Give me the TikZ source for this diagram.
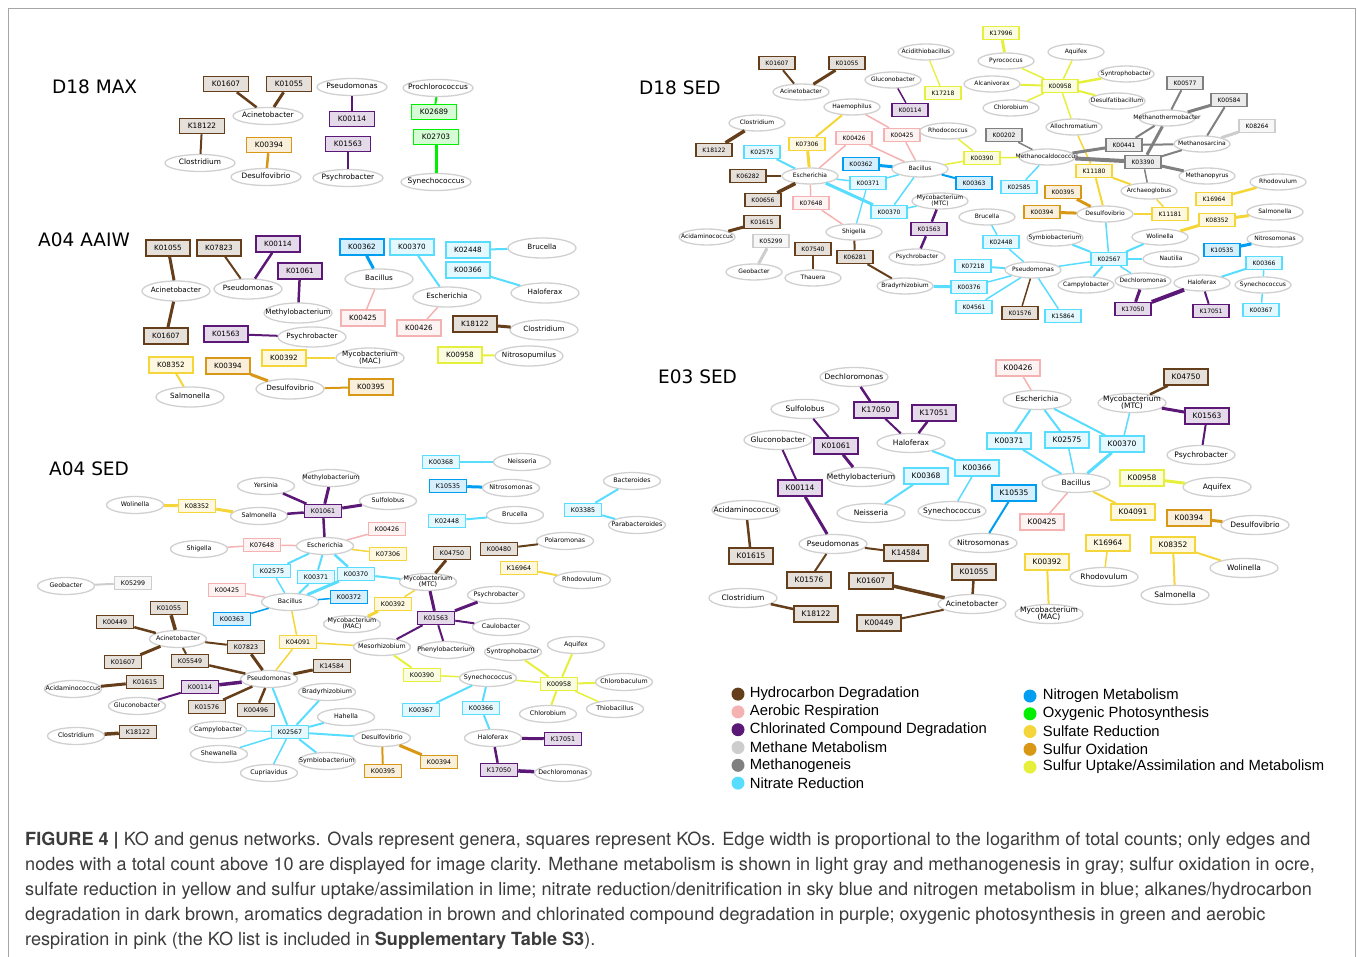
\documentclass[tikz,border=0pt]{standalone}
\usepackage{fontspec}
\setmainfont{DejaVu Sans}
\newfontfamily\legfont{Liberation Sans}
\newfontfamily\capfont{TeX Gyre Heros}
\usepackage{tikz}
\usetikzlibrary{shapes.geometric, positioning}
\definecolor{hydro}{RGB}{101,63,28}
\definecolor{aerob}{RGB}{244,178,178}
\definecolor{chlor}{RGB}{92,24,118}
\definecolor{methane}{RGB}{205,205,205}
\definecolor{methgen}{RGB}{128,128,128}
\definecolor{nitrate}{RGB}{88,220,255}
\definecolor{nitrogen}{RGB}{0,158,240}
\definecolor{oxyphoto}{RGB}{0,238,0}
\definecolor{sulfate}{RGB}{245,214,58}
\definecolor{sulfox}{RGB}{216,152,22}
\definecolor{sulfup}{RGB}{230,240,60}
\definecolor{ovalgray}{RGB}{208,208,208}
\definecolor{captext}{RGB}{60,60,60}

\tikzset{
  gen/.style={ellipse, draw=ovalgray, fill=white, line width=1.3pt, inner sep=0pt, gensize},
  ko/.style={rectangle, draw=#1, fill=#1!16, line width=1.5pt, inner sep=0pt, kosize},
  gensize/.style={minimum width=56pt, minimum height=16pt, text height=4.4pt, text depth=1.2pt, font=\fontsize{6}{6.6}\selectfont},
  kosize/.style={minimum width=36pt, minimum height=13pt, font=\fontsize{6}{6.6}\selectfont},
  title/.style={font=\fontsize{18.5}{22}\selectfont, anchor=west, inner sep=0pt},
  legdot/.style={circle, fill=#1, minimum size=13pt, inner sep=0pt},
  legtxt/.style={font=\legfont\fontsize{14.8}{16}\selectfont, inner sep=0pt, anchor=west},
  captxt/.style={font=\capfont\fontsize{18.1}{20}\selectfont, text=captext, anchor=base west, inner sep=0pt}
}
\newcommand{\genus}[3]{\node[gen] (#1) at (#2) {\makebox[0pt]{#3}};}
\newcommand{\kobox}[4]{\node[ko=#4] (#1#2) at (#3) {#2};}
\newcommand{\twoline}[2]{\renewcommand{\arraystretch}{0.8}\begin{tabular}{@{}c@{}}#1\\#2\end{tabular}}

\begin{document}
\begin{tikzpicture}[x=1pt, y=-1pt]
  \useasboundingbox (0,0) rectangle (1357,957);
  % outer frame
  \draw[gray!70, line width=1pt] (8,960) -- (8,9) -- (1355,9) -- (1355,960);

  % D18 MAX
  \node[title] (tMax) at (52,87) {D18 MAX};
  \begin{scope}[gensize/.style={minimum width=70pt, minimum height=17pt, text height=5.4pt, text depth=1.5pt, font=\fontsize{7.4}{8}\selectfont},
                kosize/.style={minimum width=45pt, minimum height=15pt, font=\fontsize{7.4}{8}\selectfont}]
    \kobox{m}{K01607}{226,84}{hydro}
    \kobox{m}{K01055}{289,84}{hydro}
    \genus{mAcin}{268,116}{Acinetobacter}
    \genus{mPseu}{352,87}{Pseudomonas}
    \kobox{m}{K00114}{352,119}{chlor}
    \kobox{m}{K18122}{202,126}{hydro}
    \genus{mClos}{200,163}{Clostridium}
    \kobox{m}{K00394}{269,145}{sulfox}
    \genus{mDesulfo}{266,177}{Desulfovibrio}
    \kobox{m}{K01563}{348,144}{chlor}
    \genus{mPsyc}{348,178}{Psychrobacter}
    \genus{mProch}{438,88}{Prochlorococcus}
    \kobox{m}{K02689}{434,112}{oxyphoto}
    \kobox{m}{K02703}{436,137}{oxyphoto}
    \genus{mSynec}{436,182}{Synechococcus}
    \foreach \a/\b/\c/\w in {mK01607/mAcin/hydro/2.5, mK01055/mAcin/hydro/3, mPseu/mK00114/chlor/2,
        mK18122/mClos/hydro/2, mK00394/mDesulfo/sulfox/2.5, mK01563/mPsyc/chlor/2,
        mProch/mK02689/oxyphoto/2, mK02703/mSynec/oxyphoto/3}
      \draw[color=\c, line width=\w pt] (\a) -- (\b);
  \end{scope}

  % D18 SED
  \node[title] (tDsed) at (639,88) {D18 SED};
  \begin{scope}
    \kobox{s}{K01607}{777,63}{hydro}
    \kobox{s}{K01055}{847,63}{hydro}
    \genus{sAcin}{801,92}{Acinetobacter}
    \genus{sAcidi}{926,52}{Acidithiobacillus}
    \genus{sGluco}{893,80}{Gluconobacter}
    \kobox{s}{K17218}{943,93}{sulfup}
    \kobox{s}{K00114}{910,110}{chlor}
    \genus{sHaemo}{852,107}{Haemophilus}
    \genus{sClos}{757,123}{Clostridium}
    \kobox{s}{K18122}{714,150}{hydro}
    \kobox{s}{K07306}{807,144}{sulfate}
    \kobox{s}{K00426}{854,138}{aerob}
    \kobox{s}{K00425}{902,135}{aerob}
    \genus{sRhodoc}{948,131}{Rhodococcus}
    \kobox{s}{K02575}{762,152}{nitrate}
    \kobox{s}{K00362}{861,164}{nitrogen}
    \genus{sBaci}{920,169}{Bacillus}
    \kobox{s}{K00390}{982,158}{sulfup}
    \kobox{s}{K06282}{748,176}{hydro}
    \genus{sEsch}{810,176}{Escherichia}
    \kobox{s}{K00371}{868,183}{nitrate}
    \kobox{s}{K00363}{974,183}{nitrogen}
    \kobox{s}{K00656}{763,200}{hydro}
    \kobox{s}{K07648}{811,203}{aerob}
    \genus{sMtc}{940,201}{\twoline{Mycobacterium}{(MTC)}}
    \kobox{s}{K00370}{889,212}{nitrate}
    \genus{sBruc}{987,217}{Brucella}
    \kobox{s}{K01615}{762,222}{hydro}
    \genus{sAcida}{707,237}{Acidaminococcus}
    \genus{sShig}{854,232}{Shigella}
    \kobox{s}{K01563}{929,229}{chlor}
    \kobox{s}{K05299}{771,241}{methane}
    \kobox{s}{K07540}{813,249}{hydro}
    \kobox{s}{K06281}{855,257}{hydro}
    \genus{sPsyc}{917,257}{Psychrobacter}
    \genus{sGeob}{754,272}{Geobacter}
    \genus{sThau}{813,278}{Thauera}
    \genus{sBrady}{905,286}{Bradyrhizobium}
    \kobox{s}{K07218}{973,266}{nitrate}
    \kobox{s}{K00376}{969,287}{nitrate}
    \kobox{s}{K04561}{974,307}{nitrate}
    \kobox{s}{K02448}{1001,242}{nitrate}
    \kobox{s}{K17996}{1001,33}{sulfup}
    \genus{sPyro}{1006,61}{Pyrococcus}
    \genus{sAqui}{1076,52}{Aquifex}
    \genus{sAlca}{992,84}{Alcanivorax}
    \kobox{s}{K00958}{1060,86}{sulfup}
    \genus{sSyntro}{1126,74}{Syntrophobacter}
    \genus{sChlb}{1011,108}{Chlorobium}
    \genus{sDesulfa}{1117,101}{Desulfatibacillum}
    \kobox{s}{K00577}{1185,83}{methgen}
    \kobox{s}{K00584}{1229,100}{methgen}
    \genus{sMthermo}{1167,118}{Methanothermobacter}
    \kobox{s}{K08264}{1257,126}{methane}
    \genus{sAlloc}{1074,127}{Allochromatium}
    \kobox{s}{K00202}{1004,135}{methgen}
    \kobox{s}{K00441}{1124,145}{methgen}
    \genus{sMsarc}{1202,144}{Methanosarcina}
    \genus{sMcaldo}{1047,157}{Methanocaldococcus}
    \kobox{s}{K03390}{1143,162}{methgen}
    \kobox{s}{K11180}{1094,171}{sulfate}
    \genus{sMpyro}{1207,176}{Methanopyrus}
    \kobox{s}{K02585}{1019,187}{nitrate}
    \genus{sArchae}{1149,191}{Archaeoglobus}
    \genus{sRhodov}{1278,182}{Rhodovulum}
    \kobox{s}{K00395}{1063,192}{sulfox}
    \kobox{s}{K16964}{1214,199}{sulfate}
    \kobox{s}{K00394}{1042,212}{sulfox}
    \genus{sDesulfo}{1105,214}{Desulfovibrio}
    \kobox{s}{K11181}{1170,214}{sulfate}
    \genus{sSalm}{1275,212}{Salmonella}
    \kobox{s}{K08352}{1217,220}{sulfate}
    \genus{sSymb}{1055,238}{Symbiobacterium}
    \genus{sWoli}{1160,237}{Wolinella}
    \genus{sNitros}{1275,239}{Nitrosomonas}
    \kobox{s}{K10535}{1222,250}{nitrogen}
    \kobox{s}{K02567}{1109,259}{nitrate}
    \genus{sNaut}{1171,259}{Nautilia}
    \genus{sPseu}{1033,270}{Pseudomonas}
    \kobox{s}{K00366}{1264,263}{nitrate}
    \genus{sCampy}{1086,285}{Campylobacter}
    \genus{sDechl}{1143,281}{Dechloromonas}
    \genus{sHalo}{1202,283}{Haloferax}
    \genus{sSynec}{1263,285}{Synechococcus}
    \kobox{s}{K17050}{1133,309}{chlor}
    \kobox{s}{K17051}{1211,311}{chlor}
    \kobox{s}{K00367}{1261,310}{nitrate}
    \kobox{s}{K01576}{1020,313}{hydro}
    \kobox{s}{K15864}{1063,316}{nitrate}
    \foreach \a/\b/\c/\w in {sK01607/sAcin/hydro/2, sK01055/sAcin/hydro/3, sAcidi/sK17218/sulfup/1.3,
        sGluco/sK00114/chlor/1.5, sHaemo/sK07306/sulfate/2, sHaemo/sK00425/aerob/1.5,
        sClos/sK18122/hydro/3.5, sK07306/sEsch/sulfate/3, sK00426/sEsch/aerob/1.5,
        sK00426/sBaci/aerob/1.5, sK00425/sBaci/aerob/1.5, sRhodoc/sK00390/sulfup/1.5,
        sBaci/sK00390/sulfup/1.5, sK00390/sMcaldo/sulfup/1.5, sK02575/sEsch/nitrate/2,
        sK00362/sBaci/nitrogen/3, sBaci/sK00363/nitrogen/2, sK06282/sEsch/hydro/2,
        sEsch/sK00371/nitrate/1.5, sK00371/sBaci/nitrate/1.5, sK00371/sShig/nitrate/1.3,
        sK00656/sEsch/hydro/3.5, sEsch/sK07648/aerob/1.5, sK07648/sShig/aerob/1.5,
        sEsch/sK00370/nitrate/3, sK00370/sBaci/nitrate/1.5, sK00370/sMtc/nitrate/1.5,
        sMtc/sK01563/chlor/2.5, sK01563/sPsyc/chlor/2.5, sK01615/sAcida/hydro/3,
        sK05299/sGeob/methane/3, sK07540/sThau/hydro/2.5, sShig/sK06281/hydro/2,
        sK06281/sBrady/hydro/2, sBrady/sK00376/nitrate/3, sK00376/sPseu/nitrate/1.5,
        sK07218/sPseu/nitrate/2, sK04561/sPseu/nitrate/1.5, sBruc/sK02448/nitrate/1.5,
        sK02448/sPseu/nitrate/1.5, sPseu/sK01576/hydro/1.5, sPseu/sK15864/nitrate/1.5,
        sPseu/sK02567/nitrate/1.5, sK02585/sMcaldo/nitrate/1.5, sK17996/sPyro/sulfup/3,
        sPyro/sK00958/sulfup/1.5, sAqui/sK00958/sulfup/1.5, sAlca/sK00958/sulfup/2,
        sSyntro/sK00958/sulfup/2.5, sChlb/sK00958/sulfup/1.5, sDesulfa/sK00958/sulfup/2,
        sK00958/sAlloc/sulfup/1.5, sAlloc/sK11180/sulfate/1.5, sK11180/sDesulfo/sulfate/2,
        sK11180/sArchae/sulfate/2, sArchae/sK11181/sulfate/1.5, sDesulfo/sK11181/sulfate/2.5,
        sArchae/sK03390/methgen/1.5, sK00202/sMcaldo/methgen/1.5, sMcaldo/sK00441/methgen/3,
        sMcaldo/sK03390/methgen/4, sK00441/sMthermo/methgen/2, sK00441/sMsarc/methgen/2,
        sK03390/sMthermo/methgen/3, sK03390/sMsarc/methgen/2, sK03390/sMpyro/methgen/3,
        sK00577/sMthermo/methgen/2, sK00584/sMthermo/methgen/3, sK00584/sMsarc/methgen/2,
        sK08264/sMsarc/methane/3, sK00395/sDesulfo/sulfox/3, sK00394/sDesulfo/sulfox/3,
        sDesulfo/sK02567/nitrate/1.5, sRhodov/sK16964/sulfate/2.5, sK08352/sWoli/sulfate/3,
        sK08352/sSalm/sulfate/3, sK10535/sNitros/nitrogen/3, sSymb/sK02567/nitrate/2,
        sWoli/sK02567/nitrate/2, sNaut/sK02567/nitrate/1.5, sK02567/sCampy/nitrate/2,
        sK02567/sDechl/nitrate/1.5, sDechl/sK17050/chlor/3, sK17050/sHalo/chlor/4,
        sHalo/sK17051/chlor/2, sHalo/sK00366/nitrate/2, sK00366/sSynec/nitrate/1.5,
        sSynec/sK00367/nitrate/1.5}
      \draw[color=\c, line width=\w pt] (\a) -- (\b);
  \end{scope}

  % A04 AAIW
  \node[title] (tAaiw) at (38,240) {A04 AAIW};
  \begin{scope}[gensize/.style={minimum width=68pt, minimum height=20pt, text height=5.3pt, text depth=1.4pt, font=\fontsize{7.2}{7.8}\selectfont},
                kosize/.style={minimum width=44pt, minimum height=16pt, font=\fontsize{7.2}{7.8}\selectfont}]
    \kobox{w}{K01055}{168,248}{hydro}
    \kobox{w}{K07823}{219,248}{hydro}
    \kobox{w}{K00114}{278,244}{chlor}
    \kobox{w}{K01061}{300,271}{chlor}
    \genus{wAcin}{176,291}{Acinetobacter}
    \genus{wPseu}{248,289}{Pseudomonas}
    \genus{wMethy}{298,313}{Methylobacterium}
    \kobox{w}{K01607}{166,336}{hydro}
    \kobox{w}{K01563}{226,334}{chlor}
    \genus{wPsyc}{312,337}{Psychrobacter}
    \kobox{w}{K00362}{362,247}{nitrogen}
    \genus{wBaci}{379,279}{Bacillus}
    \kobox{w}{K00425}{363,318}{aerob}
    \kobox{w}{K00370}{412,247}{nitrate}
    \genus{wEsch}{447,297}{Escherichia}
    \kobox{w}{K00426}{419,328}{aerob}
    \kobox{w}{K02448}{468,250}{nitrate}
    \genus{wBruc}{542,248}{Brucella}
    \kobox{w}{K00366}{468,270}{nitrate}
    \genus{wHalo}{545,293}{Haloferax}
    \kobox{w}{K18122}{475,324}{hydro}
    \genus{wClos}{544,330}{Clostridium}
    \kobox{w}{K00958}{460,355}{sulfup}
    \genus{wNitro}{529,356}{Nitrosopumilus}
    \kobox{w}{K08352}{171,365}{sulfate}
    \genus{wSalm}{190,397}{Salmonella}
    \kobox{w}{K00394}{228,366}{sulfox}
    \kobox{w}{K00392}{284,358}{sulfate}
    \genus{wMac}{370,358}{\twoline{Mycobacterium}{(MAC)}}
    \genus{wDesulfo}{290,389}{Desulfovibrio}
    \kobox{w}{K00395}{371,387}{sulfox}
    \foreach \a/\b/\c/\w in {wK01055/wAcin/hydro/3, wAcin/wK01607/hydro/3, wK07823/wPseu/hydro/2,
        wK00114/wPseu/chlor/2.5, wK01061/wMethy/chlor/2.5, wK01563/wPsyc/chlor/2,
        wK00362/wBaci/nitrogen/3, wBaci/wK00425/aerob/1.5, wK00370/wEsch/nitrate/2,
        wEsch/wK00426/aerob/1.5, wK02448/wBruc/nitrate/2, wK00366/wHalo/nitrate/2,
        wK18122/wClos/hydro/3, wK00958/wNitro/sulfup/2, wK08352/wSalm/sulfate/2,
        wK00394/wDesulfo/sulfox/3, wDesulfo/wK00395/sulfox/2, wK00392/wMac/sulfate/2}
      \draw[color=\c, line width=\w pt] (\a) -- (\b);
  \end{scope}

  % A04 SED
  \node[title] (tAsed) at (49,469) {A04 SED};
  \begin{scope}[gensize/.style={minimum width=57pt, minimum height=17pt, text height=4.6pt, text depth=1.3pt, font=\fontsize{6.3}{6.8}\selectfont},
                kosize/.style={minimum width=37pt, minimum height=13pt, font=\fontsize{6.3}{6.8}\selectfont}]
    \genus{aYers}{266,486}{Yersinia}
    \genus{aMethy}{331,478}{Methylobacterium}
    \genus{aWoli}{135,505}{Wolinella}
    \kobox{a}{K08352}{197,506}{sulfate}
    \genus{aSalm}{259,516}{Salmonella}
    \kobox{a}{K01061}{323,511}{chlor}
    \genus{aSulfo}{388,501}{Sulfolobus}
    \genus{aShig}{199,549}{Shigella}
    \kobox{a}{K07648}{262,545}{aerob}
    \genus{aEsch}{325,546}{Escherichia}
    \kobox{a}{K00426}{387,529}{aerob}
    \kobox{a}{K07306}{388,554}{sulfate}
    \kobox{a}{K02575}{272,571}{nitrate}
    \kobox{a}{K00371}{316,577}{nitrate}
    \kobox{a}{K00370}{356,574}{nitrate}
    \genus{aGeob}{66,586}{Geobacter}
    \kobox{a}{K05299}{133,583}{methane}
    \kobox{a}{K00425}{227,590}{aerob}
    \genus{aBaci}{290,602}{Bacillus}
    \kobox{a}{K00372}{349,597}{nitrogen}
    \kobox{a}{K01055}{169,608}{hydro}
    \kobox{a}{K00449}{115,622}{hydro}
    \kobox{a}{K00363}{232,619}{nitrogen}
    \genus{aMac}{352,624}{\twoline{Mycobacterium}{(MAC)}}
    \genus{aAcin}{178,639}{Acinetobacter}
    \kobox{a}{K07823}{246,647}{hydro}
    \kobox{a}{K04091}{298,642}{sulfate}
    \genus{aMeso}{382,647}{Mesorhizobium}
    \kobox{a}{K01607}{123,662}{hydro}
    \kobox{a}{K05549}{190,661}{hydro}
    \kobox{a}{K14584}{332,666}{hydro}
    \genus{aAcida}{73,689}{Acidaminococcus}
    \kobox{a}{K01615}{145,682}{hydro}
    \kobox{a}{K00114}{200,687}{chlor}
    \genus{aPseu}{269,679}{Pseudomonas}
    \genus{aBrady}{327,692}{Bradyrhizobium}
    \genus{aGluco}{137,706}{Gluconobacter}
    \kobox{a}{K01576}{207,707}{hydro}
    \kobox{a}{K00496}{256,710}{hydro}
    \genus{aHahe}{346,717}{Hahella}
    \genus{aClos}{76,736}{Clostridium}
    \kobox{a}{K18122}{138,732}{hydro}
    \genus{aCampy}{218,730}{Campylobacter}
    \kobox{a}{K02567}{290,732}{nitrate}
    \genus{aDesulfo}{382,738}{Desulfovibrio}
    \genus{aShew}{219,754}{Shewanella}
    \genus{aSymb}{327,761}{Symbiobacterium}
    \genus{aCupri}{269,773}{Cupriavidus}
    \kobox{a}{K00395}{383,771}{sulfox}
    \kobox{a}{K00394}{439,762}{sulfox}
    \kobox{a}{K00368}{441,462}{nitrate}
    \genus{aNeiss}{522,462}{Neisseria}
    \kobox{a}{K10535}{448,486}{nitrogen}
    \genus{aNitros}{511,488}{Nitrosomonas}
    \genus{aBacte}{632,481}{Bacteroides}
    \kobox{a}{K03385}{583,510}{nitrate}
    \genus{aParab}{637,525}{Parabacteroides}
    \kobox{a}{K02448}{447,521}{nitrate}
    \genus{aBruc}{515,515}{Brucella}
    \kobox{a}{K00480}{499,549}{hydro}
    \genus{aPolar}{565,541}{Polaromonas}
    \kobox{a}{K04750}{452,553}{hydro}
    \kobox{a}{K16964}{519,568}{sulfate}
    \genus{aRhodov}{582,580}{Rhodovulum}
    \genus{aMtc}{428,582}{\twoline{Mycobacterium}{(MTC)}}
    \kobox{a}{K00392}{393,604}{sulfate}
    \genus{aPsyc}{496,595}{Psychrobacter}
    \kobox{a}{K01563}{436,618}{chlor}
    \genus{aCaulo}{501,627}{Caulobacter}
    \genus{aPheny}{446,650}{Phenylobacterium}
    \genus{aSyntro}{513,652}{Syntrophobacter}
    \genus{aAqui}{576,645}{Aquifex}
    \kobox{a}{K00390}{422,675}{sulfup}
    \genus{aSynec}{488,678}{Synechococcus}
    \kobox{a}{K00958}{559,684}{sulfup}
    \genus{aChlbac}{624,682}{Chlorobaculum}
    \kobox{a}{K00367}{421,710}{nitrate}
    \kobox{a}{K00366}{481,708}{nitrate}
    \genus{aChlb}{548,714}{Chlorobium}
    \genus{aThio}{615,709}{Thiobacillus}
    \genus{aHalo}{493,738}{Haloferax}
    \kobox{a}{K17051}{563,739}{chlor}
    \kobox{a}{K17050}{499,770}{chlor}
    \genus{aDechl}{563,773}{Dechloromonas}
    \foreach \a/\b/\c/\w in {aWoli/aK08352/sulfate/3, aK08352/aSalm/sulfate/3, aYers/aK01061/chlor/2.5,
        aMethy/aK01061/chlor/3, aSalm/aK01061/chlor/2.5, aK01061/aSulfo/chlor/3,
        aK01061/aEsch/chlor/2.5, aShig/aK07648/aerob/1.5, aK07648/aEsch/aerob/1.5,
        aEsch/aK00426/aerob/1.5, aEsch/aK07306/sulfate/1.5, aEsch/aK02575/nitrate/2,
        aEsch/aK00371/nitrate/2, aEsch/aK00370/nitrate/2.5, aK02575/aBaci/nitrate/1.5,
        aK00371/aBaci/nitrate/2, aK00370/aBaci/nitrate/3, aK00370/aMtc/nitrate/2,
        aK00425/aBaci/aerob/1.5, aBaci/aK00372/nitrogen/1.5, aK00363/aBaci/nitrogen/1.5,
        aGeob/aK05299/methane/2, aBaci/aK04091/sulfate/1.5, aK04091/aMeso/sulfate/1.5,
        aK04091/aPseu/sulfate/1.5, aK01055/aAcin/hydro/3.5, aK00449/aAcin/hydro/2.5,
        aK01607/aAcin/hydro/3, aAcin/aK07823/hydro/2, aAcin/aK05549/hydro/2,
        aK07823/aPseu/hydro/3, aK05549/aPseu/hydro/2.5, aPseu/aK14584/hydro/3,
        aPseu/aK00114/chlor/3.5, aK00114/aGluco/chlor/2, aPseu/aK01576/hydro/2.5,
        aPseu/aK00496/hydro/2.5, aPseu/aK02567/nitrate/2, aAcida/aK01615/hydro/3,
        aClos/aK18122/hydro/3.5, aK02567/aBrady/nitrate/2, aK02567/aHahe/nitrate/2,
        aK02567/aDesulfo/nitrate/2, aK02567/aCampy/nitrate/1, aK02567/aShew/nitrate/1.5,
        aK02567/aCupri/nitrate/1.5, aK02567/aSymb/nitrate/2, aDesulfo/aK00395/sulfox/2,
        aDesulfo/aK00394/sulfox/3, aK04750/aMtc/hydro/3, aMtc/aK00392/sulfate/1.5,
        aK00392/aMac/sulfate/3, aMtc/aK01563/chlor/3, aK01563/aPsyc/chlor/3,
        aK01563/aCaulo/chlor/2, aK01563/aPheny/chlor/2, aK01563/aMeso/chlor/2,
        aMeso/aK00390/sulfup/2, aK00390/aSynec/sulfup/1.5, aSynec/aK00958/sulfup/1.5,
        aSyntro/aK00958/sulfup/2, aAqui/aK00958/sulfup/2, aK00958/aChlbac/sulfup/2,
        aK00958/aChlb/sulfup/2, aK00958/aThio/sulfup/1.5, aSynec/aK00367/nitrate/2,
        aSynec/aK00366/nitrate/2, aK00366/aHalo/nitrate/2, aHalo/aK17051/chlor/3,
        aHalo/aK17050/chlor/2.5, aK17050/aDechl/chlor/3.5, aK00368/aNeiss/nitrate/2,
        aK10535/aNitros/nitrogen/3, aK02448/aBruc/nitrate/2, aBacte/aK03385/nitrate/2,
        aK03385/aParab/nitrate/2, aK00480/aPolar/hydro/2, aK16964/aRhodov/sulfate/2}
      \draw[color=\c, line width=\w pt] (\a) -- (\b);
  \end{scope}

  % E03 SED
  \node[title] (tEsed) at (658,377) {E03 SED};
  \begin{scope}[gensize/.style={minimum width=68pt, minimum height=19pt, text height=5.5pt, text depth=1.5pt, font=\fontsize{7.5}{8}\selectfont},
                kosize/.style={minimum width=44pt, minimum height=16pt, font=\fontsize{7.5}{8}\selectfont}]
    \genus{eDechl}{854,377}{Dechloromonas}
    \genus{eSulfo}{805,409}{Sulfolobus}
    \kobox{e}{K17050}{876,410}{chlor}
    \kobox{e}{K17051}{934,413}{chlor}
    \genus{eGluco}{778,440}{Gluconobacter}
    \kobox{e}{K01061}{836,446}{chlor}
    \genus{eHalo}{911,443}{Haloferax}
    \genus{eMethy}{861,477}{Methylobacterium}
    \kobox{e}{K00114}{800,488}{chlor}
    \kobox{e}{K00368}{926,476}{nitrate}
    \kobox{e}{K00366}{977,468}{nitrate}
    \genus{eAcida}{746,510}{Acidaminococcus}
    \genus{eNeiss}{871,513}{Neisseria}
    \genus{eSynec}{952,511}{Synechococcus}
    \kobox{e}{K10535}{1014,493}{nitrogen}
    \kobox{e}{K01615}{751,556}{hydro}
    \genus{ePseu}{833,544}{Pseudomonas}
    \kobox{e}{K14584}{906,553}{hydro}
    \genus{eNitros}{983,543}{Nitrosomonas}
    \kobox{e}{K01576}{809,580}{hydro}
    \kobox{e}{K01607}{871,581}{hydro}
    \kobox{e}{K01055}{974,572}{hydro}
    \genus{eAcin}{972,604}{Acinetobacter}
    \genus{eClos}{743,598}{Clostridium}
    \kobox{e}{K18122}{816,614}{hydro}
    \kobox{e}{K00449}{879,623}{hydro}
    \kobox{e}{K00426}{1018,368}{aerob}
    \genus{eEsch}{1037,400}{Escherichia}
    \kobox{e}{K00371}{1009,441}{nitrate}
    \kobox{e}{K02575}{1067,440}{nitrate}
    \kobox{e}{K00370}{1122,444}{nitrate}
    \genus{eMtc}{1132,403}{\twoline{Mycobacterium}{(MTC)}}
    \kobox{e}{K04750}{1186,377}{hydro}
    \kobox{e}{K01563}{1207,416}{chlor}
    \genus{ePsyc}{1201,455}{Psychrobacter}
    \genus{eBaci}{1076,483}{Bacillus}
    \kobox{e}{K00958}{1142,478}{sulfup}
    \genus{eAqui}{1217,487}{Aquifex}
    \kobox{e}{K00425}{1042,522}{aerob}
    \kobox{e}{K04091}{1133,512}{sulfate}
    \kobox{e}{K00394}{1189,518}{sulfox}
    \genus{eDesulfo}{1255,525}{Desulfovibrio}
    \kobox{e}{K16964}{1108,543}{sulfate}
    \kobox{e}{K08352}{1173,545}{sulfate}
    \genus{eRhodov}{1104,577}{Rhodovulum}
    \genus{eWoli}{1244,568}{Wolinella}
    \genus{eSalm}{1175,595}{Salmonella}
    \kobox{e}{K00392}{1047,562}{sulfate}
    \genus{eMac}{1049,614}{\twoline{Mycobacterium}{(MAC)}}
    \foreach \a/\b/\c/\w in {eDechl/eK17050/chlor/2.5, eK17050/eHalo/chlor/2, eK17051/eHalo/chlor/2.5,
        eSulfo/eK01061/chlor/2, eK01061/eMethy/chlor/3, eGluco/eK00114/chlor/2,
        eK00114/ePseu/chlor/3, eHalo/eK00366/nitrate/2, eK00366/eSynec/nitrate/1.5,
        eK00368/eNeiss/nitrate/2, eK10535/eNitros/nitrogen/2, eAcida/eK01615/hydro/2.5,
        ePseu/eK14584/hydro/2, ePseu/eK01576/hydro/2, eK01607/eAcin/hydro/3.5,
        eK01055/eAcin/hydro/2.5, eK00449/eAcin/hydro/2, eClos/eK18122/hydro/2.5,
        eK00426/eEsch/aerob/1.5, eEsch/eK00371/nitrate/2, eEsch/eK02575/nitrate/2,
        eEsch/eK00370/nitrate/2, eK00371/eBaci/nitrate/2, eK02575/eBaci/nitrate/1.5,
        eK00370/eBaci/nitrate/3, eK00370/eMtc/nitrate/1.5, eK04750/eMtc/hydro/2.5,
        eMtc/eK01563/chlor/3, eK01563/ePsyc/chlor/2, eBaci/eK00425/aerob/1.5,
        eBaci/eK04091/sulfate/2, eK00958/eAqui/sulfup/3, eK00394/eDesulfo/sulfox/3,
        eK16964/eRhodov/sulfate/1.5, eK08352/eWoli/sulfate/2, eK08352/eSalm/sulfate/2,
        eK00392/eMac/sulfate/2}
      \draw[color=\c, line width=\w pt] (\a) -- (\b);
  \end{scope}

  % legend
  \foreach \c/\t [count=\i] in {hydro/Hydrocarbon Degradation, aerob/Aerobic Respiration,
      chlor/Chlorinated Compound Degradation, methane/Methane Metabolism,
      methgen/Methanogeneis, nitrate/Nitrate Reduction} {
    \node[legdot=\c] (ldot\i) at (738, 676.3+17.8*\i) {};
    \node[legtxt, right=5pt of ldot\i] (ltxt\i) {\t};
  }
  \foreach \c/\t [count=\i] in {nitrogen/Nitrogen Metabolism, oxyphoto/Oxygenic Photosynthesis,
      sulfate/Sulfate Reduction, sulfox/Sulfur Oxidation,
      sulfup/{Sulfur Uptake/Assimilation and Metabolism}} {
    \node[legdot=\c] (rdot\i) at (1030, 678.3+17.75*\i) {};
    \node[legtxt, right=6pt of rdot\i] (rtxt\i) {\t};
  }

  % caption
  \node[captxt] (cap1) at (25,845) {\textbf{FIGURE 4 |} KO and genus networks. Ovals represent genera, squares represent KOs. Edge width is proportional to the logarithm of total counts; only edges and};
  \node[captxt] (cap2) at (25,870) {nodes with a total count above 10 are displayed for image clarity. Methane metabolism is shown in light gray and methanogenesis in gray; sulfur oxidation in ocre,};
  \node[captxt] (cap3) at (25,895) {sulfate reduction in yellow and sulfur uptake/assimilation in lime; nitrate reduction/denitrification in sky blue and nitrogen metabolism in blue; alkanes/hydrocarbon};
  \node[captxt] (cap4) at (25,920) {degradation in dark brown, aromatics degradation in brown and chlorinated compound degradation in purple; oxygenic photosynthesis in green and aerobic};
  \node[captxt] (cap5) at (25,945) {respiration in pink (the KO list is included in \textbf{Supplementary Table S3}).};
\end{tikzpicture}
\end{document}
